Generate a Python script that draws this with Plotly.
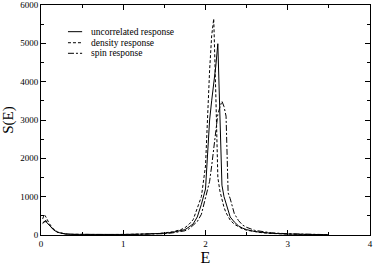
import plotly.graph_objects as go

E = [0.02, 0.04, 0.06, 0.08, 0.1, 0.15, 0.2, 0.25, 0.3, 0.4, 0.5, 0.7, 1.0, 1.2, 1.4,
     1.5, 1.6, 1.7, 1.75, 1.8, 1.85, 1.9, 1.95, 2.0, 2.025, 2.05, 2.075, 2.1, 2.125,
     2.15, 2.175, 2.2, 2.225, 2.25, 2.275, 2.3, 2.35, 2.4, 2.45, 2.5, 2.6, 2.7, 2.8,
     3.0, 3.2, 3.5]

uncorrelated = [300, 340, 350, 300, 250, 140, 70, 40, 25, 16, 13, 11, 14, 20, 30,
                45, 70, 110, 140, 210, 290, 470, 800, 1200, 2000, 3000, 3500, 3900, 4400,
                4990, 3200, 1300, 1000, 800, 600, 470, 340, 240, 180, 140, 90, 62, 45,
                25, 15, 7]

density = [420, 530, 470, 380, 300, 160, 80, 45, 28, 18, 14, 12, 15, 22, 35,
           55, 85, 140, 190, 280, 400, 700, 1000, 1800, 3100, 4300, 5200, 5640, 3700,
           1500, 1150, 900, 720, 580, 470, 390, 280, 210, 160, 125, 80, 55, 40,
           22, 13, 6]

spin = [320, 360, 380, 310, 260, 145, 72, 42, 26, 16, 12, 10, 12, 17, 25,
        35, 55, 85, 110, 160, 260, 350, 540, 950, 1150, 1400, 1800, 2300, 2800,
        3150, 3330, 3490, 3350, 3100, 1100, 950, 560, 380, 260, 200, 120, 80, 58,
        32, 18, 9]

series_names = ["uncorrelated response", "density response", "spin response"]

FONT = "Liberation Serif"
DASHES = ["solid", "3px,2px", "6px,2px,2px,2px"]

fig = go.Figure()
for name, vals, dash in zip(series_names, [uncorrelated, density, spin], DASHES):
    fig.add_trace(go.Scatter(x=E, y=vals, mode="lines", name=name, showlegend=False,
                             line=dict(color="black", width=1, dash=dash)))

axis_common = dict(showline=True, linecolor="black", linewidth=1, mirror="ticks",
                   ticks="inside", tickcolor="black", ticklen=5, tickwidth=1,
                   showgrid=False, zeroline=False, automargin=False,
                   tickfont=dict(family=FONT, size=9, color="black"))

fig.update_xaxes(range=[0, 4], dtick=1, tick0=0,
                 minor=dict(ticks="inside", dtick=0.5, ticklen=3, tickcolor="black"),
                 title=dict(text="E", font=dict(family=FONT, size=16, color="black"), standoff=1),
                 **axis_common)
fig.update_yaxes(range=[0, 6000], dtick=1000, tick0=0,
                 minor=dict(ticks="inside", dtick=500, ticklen=3, tickcolor="black"),
                 title=dict(text="S(E)", font=dict(family=FONT, size=15, color="black"), standoff=8),
                 **axis_common)

# hand-drawn legend (compact spacing as in the reference)
legend_y = [0.884, 0.836, 0.790]
for name, dash, ly in zip(series_names, DASHES, legend_y):
    fig.add_shape(type="line", xref="paper", yref="paper", x0=0.082, x1=0.125, y0=ly, y1=ly,
                  line=dict(color="black", width=1, dash=dash))
    fig.add_annotation(xref="paper", yref="paper", x=0.145, y=ly, text=name, showarrow=False,
                       xanchor="left", yanchor="middle",
                       font=dict(family=FONT, size=9.5, color="black"))

fig.update_layout(
    width=374, height=268,
    margin=dict(l=41, r=4, t=5, b=33),
    paper_bgcolor="white", plot_bgcolor="white",
    showlegend=False,
)

fig.write_html("out.html", config={"displayModeBar": False})

# remove the default page margin so the figure sits at the window's corner
with open("out.html", "r", encoding="utf-8") as f:
    html = f.read()
html = html.replace("<body>", '<body style="margin:0;padding:0;overflow:hidden">', 1)
with open("out.html", "w", encoding="utf-8") as f:
    f.write(html)
